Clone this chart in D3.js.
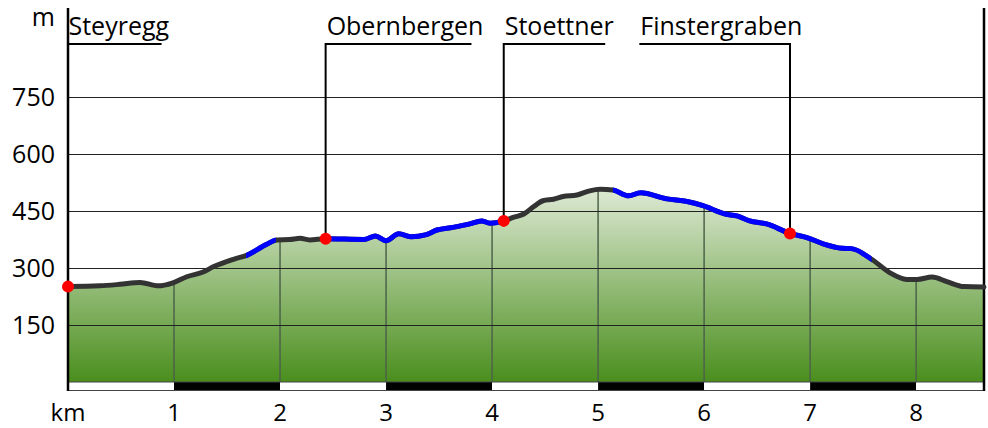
<!DOCTYPE html>
<html>
<head>
<meta charset="utf-8">
<script src="https://cdn.jsdelivr.net/npm/d3@7"></script>
<style>
  html, body { margin: 0; padding: 0; background: #fff; }
  svg { display: block; font-family: "Open Sans", "Noto Sans", sans-serif; }
</style>
</head>
<body>
<svg id="chart" width="988" height="428"></svg>
<script>
// ---- data ----
const distanceKm = [0, 0.30, 0.49, 0.68, 0.85, 0.99, 1.12, 1.28, 1.37, 1.56, 1.69, 1.87, 1.97, 2.09, 2.19, 2.28, 2.43,
  2.79, 2.90, 3.00, 3.12, 3.24, 3.37, 3.48, 3.63, 3.79, 3.90, 3.98, 4.11, 4.20, 4.30, 4.39, 4.48, 4.58, 4.67, 4.80,
  4.92, 5.02, 5.14, 5.29, 5.40, 5.65, 5.84, 5.99, 6.20, 6.31, 6.43, 6.59, 6.81, 6.97, 7.13, 7.30, 7.39, 7.58, 7.75,
  7.91, 8.01, 8.15, 8.29, 8.45, 8.64];
const elevationM = [251, 253, 257, 262, 253, 261, 277, 290, 303, 323, 334, 362, 374, 375, 378, 374, 377,
  375, 384, 372, 390, 382, 387, 400, 407, 416, 424, 418, 424, 433, 442, 461, 477, 481, 488, 492,
  503, 507, 505, 490, 498, 482, 475, 464, 442, 437, 424, 416, 391, 380, 363, 352, 351, 323, 288,
  270, 270, 276, 264, 251, 250];

// sections of the route drawn in blue (km from/to)
const blueFromKm = [1.68, 2.43, 5.14];
const blueToKm   = [1.96, 4.11, 7.58];

// waypoints
const waypointNames = ["Steyregg", "Obernbergen", "Stoettner", "Finstergraben"];
const waypointKm    = [0, 2.43, 4.11, 6.81];
const waypointElev  = [251, 377, 424, 391];
const waypointSide  = ["right", "right", "right", "left"];

// axis ticks
const elevTicks = [150, 300, 450, 600, 750];
const kmTicks = [1, 2, 3, 4, 5, 6, 7, 8];
const totalKm = 8.64;

// ---- layout ----
const mLeft = 68, mRight = 984, mTop = 8, base = 382, barH = 8.5, labelLineY = 44;
const svg = d3.select("#chart");

const x = d3.scaleLinear().domain([0, totalKm]).range([mLeft, mRight]);
const y = d3.scaleLinear().domain([0, 750]).range([base, 97]);

const pts = distanceKm.map((d, i) => ({ km: d, e: elevationM[i] }));

const defs = svg.append("defs");
const grad = defs.append("linearGradient").attr("id", "fillGrad")
  .attr("gradientUnits", "userSpaceOnUse")
  .attr("x1", 0).attr("x2", 0)
  .attr("y1", y(d3.max(elevationM))).attr("y2", base);
grad.append("stop").attr("offset", 0).attr("stop-color", "#dde9d3");
grad.append("stop").attr("offset", 1).attr("stop-color", "#4a8e1d");

const curve = d3.curveMonotoneX;
const area = d3.area().x(d => x(d.km)).y0(base).y1(d => y(d.e)).curve(curve);
const line = d3.line().x(d => x(d.km)).y(d => y(d.e)).curve(curve);

defs.append("clipPath").attr("id", "areaClip").append("path").attr("d", area(pts));

// filled profile
svg.append("path").attr("d", area(pts)).attr("fill", "url(#fillGrad)");

// vertical km grid lines inside profile
svg.append("g").attr("clip-path", "url(#areaClip)")
  .selectAll("line").data(kmTicks).join("line")
  .attr("x1", d => x(d)).attr("x2", d => x(d))
  .attr("y1", mTop).attr("y2", base)
  .attr("stroke", "#4d634a").attr("stroke-width", 1.5);

// horizontal grid lines
svg.append("g").selectAll("line").data(elevTicks).join("line")
  .attr("x1", mLeft).attr("x2", mRight)
  .attr("y1", d => Math.round(y(d)) + 0.5).attr("y2", d => Math.round(y(d)) + 0.5)
  .attr("stroke", "#222").attr("stroke-width", 1);

// y tick labels
svg.append("g").selectAll("text").data(elevTicks).join("text")
  .attr("x", 55).attr("y", d => y(d) + 9)
  .attr("text-anchor", "end").attr("font-size", 25).attr("fill", "#000")
  .text(d => d);
svg.append("text").attr("x", 55).attr("y", 26).attr("text-anchor", "end")
  .attr("font-size", 25).text("m");

// km bar
const segs = d3.range(0, Math.ceil(totalKm));
svg.append("g").selectAll("rect").data(segs).join("rect")
  .attr("x", d => x(d)).attr("y", base)
  .attr("width", d => x(Math.min(d + 1, totalKm)) - x(d)).attr("height", barH)
  .attr("fill", d => d % 2 ? "#000" : "#fff");
svg.append("rect").attr("x", mLeft).attr("y", base).attr("width", mRight - mLeft).attr("height", barH)
  .attr("fill", "none").attr("stroke", "#444").attr("stroke-width", 1);

// x tick labels
svg.append("g").selectAll("text").data(kmTicks).join("text")
  .attr("x", d => x(d)).attr("y", 421).attr("text-anchor", "middle")
  .attr("font-size", 24).text(d => d);
svg.append("text").attr("x", x(0)).attr("y", 421).attr("text-anchor", "middle")
  .attr("font-size", 24).text("km");

// axis frame lines
svg.append("line").attr("x1", mLeft).attr("x2", mLeft).attr("y1", mTop).attr("y2", base + barH + 0.5)
  .attr("stroke", "#000").attr("stroke-width", 2.5);
svg.append("line").attr("x1", mRight).attr("x2", mRight).attr("y1", mTop).attr("y2", base + barH + 0.5)
  .attr("stroke", "#000").attr("stroke-width", 2.5);

// profile line: gray then blue sections
svg.append("path").attr("d", line(pts)).attr("fill", "none")
  .attr("stroke", "#333").attr("stroke-width", 5).attr("stroke-linejoin", "round").attr("stroke-linecap", "round");
blueFromKm.forEach((f, i) => {
  const id = "blueClip" + i;
  defs.append("clipPath").attr("id", id).append("rect")
    .attr("x", x(f)).attr("y", 0).attr("width", x(blueToKm[i]) - x(f)).attr("height", 428);
  svg.append("path").attr("d", line(pts)).attr("fill", "none").attr("clip-path", `url(#${id})`)
    .attr("stroke", "#0000ff").attr("stroke-width", 5).attr("stroke-linejoin", "round");
});

// waypoint labels
const wg = svg.append("g");
waypointNames.forEach((name, i) => {
  const px = x(waypointKm[i]), py = y(waypointElev[i]);
  const t = wg.append("text").attr("y", 35).attr("font-size", 25).text(name);
  const w = t.node().getComputedTextLength();
  const ul = w * 0.93;
  let x0;
  if (waypointSide[i] === "right") { x0 = px; } else { x0 = px - ul; }
  t.attr("x", x0 + (i === 0 ? 0.5 : 1));
  wg.append("line").attr("x1", x0).attr("x2", x0 + ul).attr("y1", labelLineY).attr("y2", labelLineY)
    .attr("stroke", "#000").attr("stroke-width", 2);
  if (i > 0) {
    wg.append("line").attr("x1", px).attr("x2", px).attr("y1", labelLineY - 1).attr("y2", py)
      .attr("stroke", "#000").attr("stroke-width", 2);
  }
});

// waypoint dots
svg.append("g").selectAll("circle").data(waypointKm).join("circle")
  .attr("cx", d => x(d)).attr("cy", (d, i) => y(waypointElev[i])).attr("r", 6)
  .attr("fill", "#ff0000");
</script>
</body>
</html>
